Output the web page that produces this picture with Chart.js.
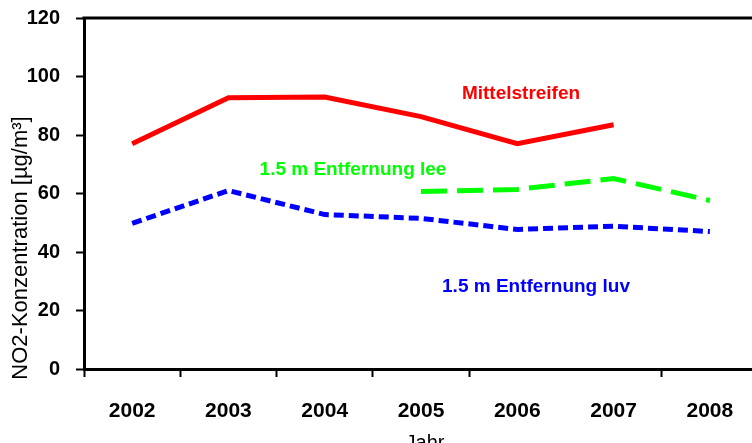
<!DOCTYPE html>
<html>
<head>
<meta charset="utf-8">
<script src="https://cdn.jsdelivr.net/npm/chart.js@4/dist/chart.umd.min.js"></script>
<style>
  html, body { margin: 0; padding: 0; overflow: hidden; background: #fff; }
  #wrap { position: absolute; left: 0; top: -10px; width: 758px; height: 466px; }
</style>
</head>
<body>
<div id="wrap"><canvas id="c"></canvas></div>
<script>
const years = ['2002', '2003', '2004', '2005', '2006', '2007', '2008'];
const mittelstreifen = [77, 92.7, 93, 86.3, 77, 83.5, null];
const entfernungLee = [null, null, null, 60.7, 61.4, 65.1, 57.6];
const entfernungLuv = [49.8, 61, 52.8, 51.5, 47.7, 48.8, 47];
const yTicks = [0, 20, 40, 60, 80, 100, 120];
const yTitle = 'NO2-Konzentration [µg/m³]';
const xTitle = 'Jahr';
const seriesLabels = ['Mittelstreifen', '1.5 m Entfernung lee', '1.5 m Entfernung luv'];

const FONT = '"Liberation Sans", Arial, sans-serif';
const OFF = 10; // canvas is shifted up by this many pixels

const annotate = {
  id: 'annotate',
  afterDraw(chart) {
    const ctx = chart.ctx;
    const a = chart.chartArea;
    ctx.save();
    // top border of the plot box
    ctx.strokeStyle = '#000';
    ctx.lineWidth = 3;
    ctx.beginPath();
    ctx.moveTo(a.left - 1.5, a.top);
    ctx.lineTo(a.right + 2, a.top);
    ctx.stroke();

    ctx.textBaseline = 'alphabetic';
    ctx.font = 'bold 19px ' + FONT;
    ctx.textAlign = 'center';
    ctx.fillStyle = '#ff0000';
    ctx.fillText(seriesLabels[0], 521, 99 + OFF);
    ctx.fillStyle = '#00ff00';
    ctx.fillText(seriesLabels[1], 353, 175 + OFF);
    ctx.fillStyle = '#0000ff';
    ctx.fillText(seriesLabels[2], 536, 292 + OFF);

    // axis titles
    ctx.fillStyle = '#000';
    ctx.font = '20px ' + FONT;
    ctx.textAlign = 'center';
    ctx.textBaseline = 'middle';
    ctx.fillText(xTitle, 425, 443 + OFF);
    ctx.font = '22px ' + FONT;
    ctx.translate(21, 248 + OFF);
    ctx.rotate(-Math.PI / 2);
    ctx.fillText(yTitle, 0, 0);
    ctx.restore();
  }
};

new Chart(document.getElementById('c'), {
  type: 'line',
  data: {
    labels: years,
    datasets: [
      { label: seriesLabels[0], data: mittelstreifen, borderColor: '#ff0000', borderWidth: 5, pointRadius: 0, tension: 0, spanGaps: false },
      { label: seriesLabels[1], data: entfernungLee, borderColor: '#00ff00', borderWidth: 5, borderDash: [26, 10], pointRadius: 0, tension: 0 },
      { label: seriesLabels[2], data: entfernungLuv, borderColor: '#0000ff', borderWidth: 5, borderDash: [10, 5], pointRadius: 0, tension: 0 }
    ]
  },
  options: {
    responsive: true,
    maintainAspectRatio: false,
    animation: false,
    layout: { padding: { top: 7, right: 0, left: 0, bottom: 0 } },
    plugins: { legend: { display: false }, tooltip: { enabled: false } },
    scales: {
      x: {
        offset: true,
        grid: {
          offset: true,
          drawOnChartArea: false,
          tickLength: 8,
          tickWidth: 2,
          tickColor: (c) => (c.index === 5 ? 'rgba(0,0,0,0)' : '#000')
        },
        border: { color: '#000', width: 3 },
        ticks: { color: '#000', font: { family: FONT, size: 21, weight: 'bold' }, padding: 22, maxRotation: 0 },
        afterFit(s) { s.height = 466 - 379; }
      },
      y: {
        min: 0, max: 120,
        afterBuildTicks(s) { s.ticks = yTicks.map(v => ({ value: v })); },
        grid: { drawOnChartArea: false, tickLength: 8, tickWidth: 2, tickColor: '#000' },
        border: { color: '#000', width: 3 },
        ticks: { color: '#000', font: { family: FONT, size: 20, weight: 'bold' }, padding: 16 },
        afterFit(s) { s.width = 84; }
      }
    }
  },
  plugins: [annotate]
});
</script>
</body>
</html>
